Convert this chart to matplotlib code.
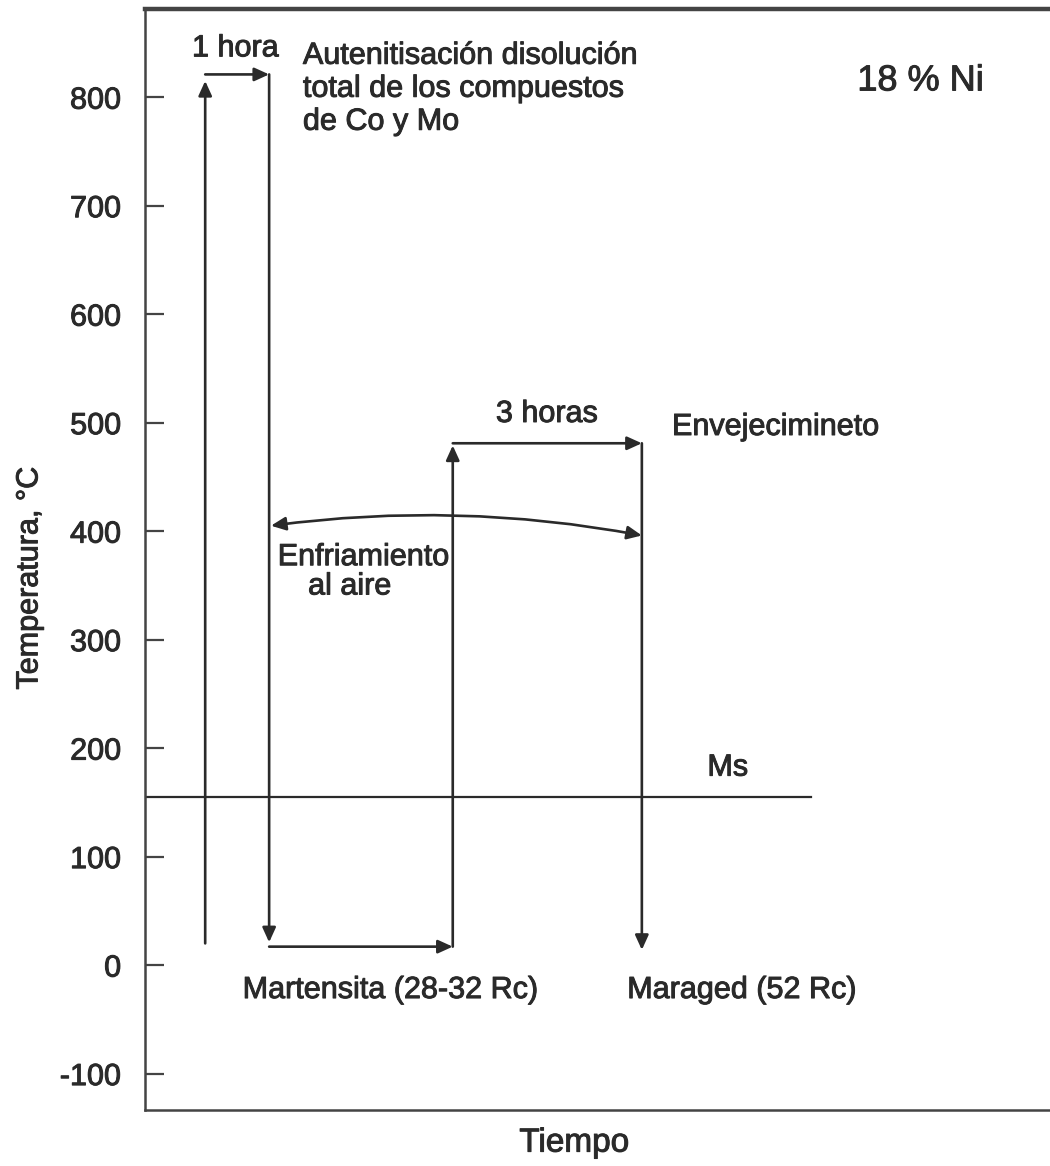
import matplotlib
matplotlib.use("Agg")
import matplotlib.pyplot as plt
import matplotlib.patheffects as pe

plt.rcParams['font.family'] = ['Liberation Sans', 'DejaVu Sans']

# ---- data (time in arbitrary units, temperature in °C) ----
y_ticks = [-100, 0, 100, 200, 300, 400, 500, 600, 700, 800]
time_pts = [6.6, 13.6, 33.7, 54.4]          # heat-up, end of 1 h hold, start aging, end aging
temp_start = 20
temp_aust = 821
temp_quench = 17
temp_age = 481
temp_end = 14
ms_temp = 155
ms_end = 72.9
air_cool_left = 405
air_cool_right = 396

INK = '#2a2a2a'
FS = 22
PE = [pe.withStroke(linewidth=0.7, foreground=INK)]

fig = plt.figure(figsize=(10.5, 11.66), dpi=100)
ax = fig.add_axes([0.138, 0.048, 0.87, 0.944])
ax.set_xlim(0, 100)
ax.set_ylim(-133.6, 881)

ax.spines['right'].set_visible(False)
ax.spines['top'].set_linewidth(3.2)
ax.spines['bottom'].set_linewidth(1.8)
ax.spines['left'].set_linewidth(1.8)
for s in ax.spines.values():
    s.set_color('#444444')

ax.set_xticks([])
ax.set_yticks(y_ticks)
ax.set_yticklabels([str(v) for v in y_ticks], fontsize=FS, color=INK)
for t in ax.get_yticklabels():
    t.set_path_effects(PE)
ax.tick_params(axis='y', direction='in', length=14, width=1.6, color='#444444', pad=17)

ax.set_xlabel('Tiempo', fontsize=FS + 2, color=INK, path_effects=PE)
ax.xaxis.set_label_coords(0.47, -0.016, transform=ax.transAxes)
ax.xaxis.label.set_va('top')
ax.set_ylabel('Temperatura, °C', fontsize=FS, color=INK, path_effects=PE)
ax.yaxis.set_label_coords(-0.110, 0.483)

x0, x1, x2, x3 = time_pts
segs = [
    ((x0, temp_start), (x0, temp_aust - 6)),
    ((x0, temp_aust), (x1, temp_aust)),
    ((x1, temp_aust), (x1, temp_quench + 4)),
    ((x1, temp_quench), (x2, temp_quench)),
    ((x2, temp_quench), (x2, temp_age - 2)),
    ((x2, temp_age), (x3, temp_age)),
    ((x3, temp_age), (x3, temp_end)),
]
aprops = dict(arrowstyle='-|>,head_length=0.55,head_width=0.25', color=INK,
              lw=1.9, shrinkA=0, shrinkB=0, mutation_scale=16)
for a, b in segs:
    ax.annotate('', xy=b, xytext=a, xycoords='data', textcoords='data', arrowprops=aprops)

# air cooling curved double arrow
ax.annotate('', xy=(x3, air_cool_right), xytext=(x1 + 0.2, air_cool_left),
            arrowprops=dict(arrowstyle='<|-|>,head_length=0.55,head_width=0.25', color=INK,
                            lw=1.9, shrinkA=0, shrinkB=0, mutation_scale=16,
                            connectionstyle='arc3,rad=-0.08'))

# Ms line
ax.plot([0, ms_end], [ms_temp, ms_temp], color=INK, lw=1.6)

# texts
kw = dict(color=INK, path_effects=PE)
ax.text(9.9, 845, '1 hora', fontsize=FS, ha='center', va='center', **kw)
ax.text(17.3, 852, 'Autenitisación disolución\ntotal de los compuestos\nde Co y Mo',
        fontsize=FS, ha='left', va='top', linespacing=1.13, **kw)
ax.text(84.9, 815, '18 % Ni', fontsize=FS + 4, ha='center', va='center', **kw)
ax.text(44.0, 508, '3 horas', fontsize=FS, ha='center', va='center', **kw)
ax.text(57.7, 496, 'Envejecimineto', fontsize=FS, ha='left', va='center', **kw)
ax.text(23.9, 376, 'Enfriamiento', fontsize=FS, ha='center', va='center', **kw)
ax.text(22.4, 349, 'al aire', fontsize=FS, ha='center', va='center', **kw)
ax.text(10.7, -23, 'Martensita (28-32 Rc)', fontsize=FS, ha='left', va='center', **kw)
ax.text(52.8, -23, 'Maraged (52 Rc)', fontsize=FS, ha='left', va='center', **kw)
ax.text(63.8, 182, 'Ms', fontsize=FS, ha='center', va='center', **kw)

fig.savefig('out.png', dpi=100)
